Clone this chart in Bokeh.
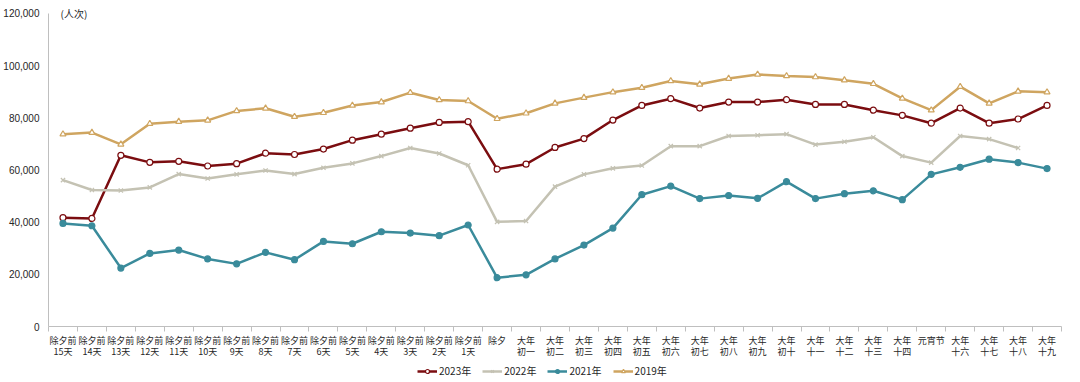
from bokeh.plotting import figure
from bokeh.layouts import column
from bokeh.models import (FixedTicker, Legend, LegendItem, Label, NumeralTickFormatter,
                          ColumnDataSource)
from bokeh.embed import file_html
from bokeh.resources import INLINE

categories = ["除夕前\n15天", "除夕前\n14天", "除夕前\n13天", "除夕前\n12天", "除夕前\n11天",
              "除夕前\n10天", "除夕前\n9天", "除夕前\n8天", "除夕前\n7天", "除夕前\n6天",
              "除夕前\n5天", "除夕前\n4天", "除夕前\n3天", "除夕前\n2天", "除夕前\n1天",
              "除夕", "大年\n初一", "大年\n初二", "大年\n初三", "大年\n初四", "大年\n初五",
              "大年\n初六", "大年\n初七", "大年\n初八", "大年\n初九", "大年\n初十",
              "大年\n十一", "大年\n十二", "大年\n十三", "大年\n十四", "元宵节",
              "大年\n十六", "大年\n十七", "大年\n十八", "大年\n十九"]

y2023 = [41700, 41400, 65600, 62900, 63300, 61500, 62400, 66400, 65900, 68000,
         71400, 73700, 76000, 78200, 78500, 60300, 62200, 68600, 72000, 79100,
         84700, 87300, 83700, 86000, 86000, 86900, 85100, 85100, 82900, 80900,
         77900, 83700, 77900, 79500, 84700]
y2022 = [56100, 52300, 52100, 53300, 58400, 56700, 58300, 59800, 58400, 60800,
         62500, 65300, 68400, 66300, 61800, 40100, 40400, 53600, 58300, 60600,
         61700, 69100, 69100, 73000, 73300, 73700, 69700, 70800, 72500, 65300,
         62800, 73000, 71800, 68400, None]
y2021 = [39500, 38600, 22400, 28000, 29300, 25900, 24000, 28400, 25600, 32600,
         31700, 36300, 35800, 34800, 38900, 18700, 19800, 25900, 31200, 37700,
         50500, 53800, 49000, 50200, 49100, 55500, 49000, 50900, 52000, 48600,
         58300, 61000, 64100, 62800, 60500]
y2019 = [73700, 74300, 69800, 77700, 78500, 79000, 82600, 83600, 80400, 81900,
         84700, 86000, 89600, 86800, 86400, 79600, 81700, 85500, 87700, 89800,
         91500, 94100, 92800, 95000, 96600, 96000, 95600, 94400, 93000, 87400,
         82900, 91900, 85500, 90100, 89800]
series_names = ["2023年", "2022年", "2021年", "2019年"]
y_ticks = [0, 20000, 40000, 60000, 80000, 100000, 120000]

xs = list(range(len(categories)))
TXT = "#262626"

p = figure(width=1064, height=362, output_backend="svg", toolbar_location=None,
           x_range=(-0.5, len(categories) - 0.5), y_range=(0, 123000),
           min_border_left=43, min_border_right=3, min_border_top=5, min_border_bottom=36)
p.outline_line_color = None
p.xgrid.visible = False
p.ygrid.visible = False

# y axis
p.yaxis.ticker = FixedTicker(ticks=y_ticks)
p.yaxis.bounds = (0, 120000)
p.yaxis.formatter = NumeralTickFormatter(format="0,0")
p.yaxis.axis_line_color = "#BFBFBF"
p.yaxis.major_tick_line_color = None
p.yaxis.major_tick_out = 0
p.yaxis.minor_tick_line_color = None
p.yaxis.major_label_text_font = "Liberation Sans"
p.yaxis.major_label_text_font_size = "10px"
p.yaxis.major_label_text_color = TXT
p.yaxis.major_label_standoff = 9

# x axis
p.xaxis.ticker = FixedTicker(ticks=xs, minor_ticks=[i - 0.5 for i in range(len(categories) + 1)])
p.xaxis.major_label_overrides = {i: c for i, c in enumerate(categories)}
p.xaxis.axis_line_color = "#BFBFBF"
p.xaxis.major_tick_line_color = None
p.xaxis.major_tick_out = 5
p.xaxis.major_tick_in = 0
p.xaxis.minor_tick_line_color = "#BFBFBF"
p.xaxis.minor_tick_out = 5
p.xaxis.minor_tick_in = 0
p.xaxis.major_label_text_font = "Noto Sans CJK SC"
p.xaxis.major_label_text_font_size = "9px"
p.xaxis.major_label_text_color = TXT
p.xaxis.major_label_standoff = 2
p.xaxis.major_label_text_line_height = 0.92

styles = [
    dict(color="#7B0D10", marker="circle", fill="white", size=6),
    dict(color="#C4C2B3", marker="x", fill="#C4C2B3", size=6),
    dict(color="#3A8B9B", marker="circle", fill="#3A8B9B", size=6),
    dict(color="#CFA560", marker="triangle", fill="white", size=6),
]
datasets = [y2023, y2022, y2021, y2019]

# legend strip (no axes); its frame is aligned with the chart's frame
lf = figure(width=1064, height=16, output_backend="svg", toolbar_location=None,
            x_range=(0, 1), y_range=(0, 1), min_border=0,
            x_axis_location=None, y_axis_location=None)
lf.grid.visible = False
lf.outline_line_color = None

items = []
for name, ys, st in zip(series_names, datasets, styles):
    pts_x = [x for x, y in zip(xs, ys) if y is not None]
    pts_y = [y for y in ys if y is not None]
    src = ColumnDataSource(dict(x=pts_x, y=pts_y))
    p.line("x", "y", source=src, line_color=st["color"], line_width=2.5)
    p.scatter("x", "y", source=src, marker=st["marker"], size=st["size"],
              line_color=st["color"], fill_color=st["fill"], line_width=1.2)
    # same data, far outside the legend strip's visible range
    ln = lf.line("x", "y", source=src, line_color=st["color"], line_width=2.5)
    sc = lf.scatter("x", "y", source=src, marker=st["marker"], size=st["size"],
                    line_color=st["color"], fill_color=st["fill"], line_width=1.2)
    items.append(LegendItem(label=name, renderers=[ln, sc]))

legend = Legend(items=items, orientation="horizontal", location=(369, 0),
                label_text_font="Noto Sans CJK SC", label_text_font_size="10px",
                label_text_color=TXT, glyph_width=20, glyph_height=10,
                label_standoff=2, spacing=11, padding=2, margin=0,
                border_line_color=None, background_fill_alpha=0, label_height=10)
lf.add_layout(legend, "center")

p.add_layout(Label(x=-0.5, y=120000, x_offset=12, text="(人次)", text_font="Noto Sans CJK SC",
                   text_font_size="10px", text_color=TXT, text_baseline="middle"))

layout = column(p, lf, spacing=0)
open("out.html", "w").write(file_html(layout, INLINE))
